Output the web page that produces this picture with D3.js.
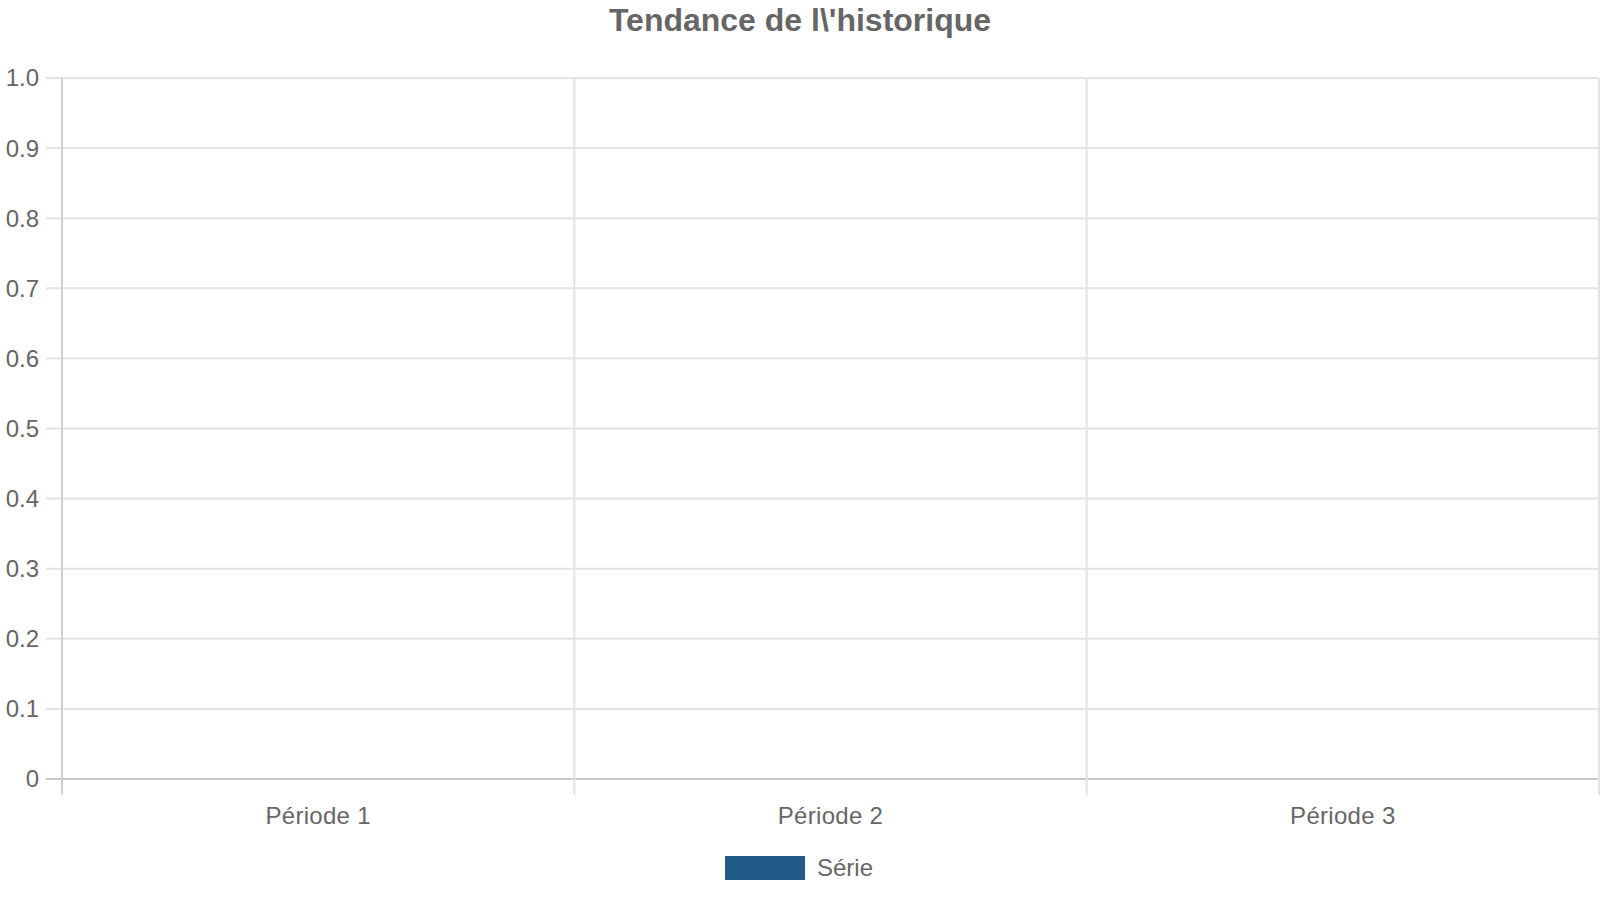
<!DOCTYPE html>
<html>
<head>
<meta charset="utf-8">
<script src="https://cdn.jsdelivr.net/npm/d3@7"></script>
<style>
  html, body { margin: 0; padding: 0; background: #fff; }
  svg { display: block; }
  text { font-family: "Liberation Sans", Arial, Helvetica, sans-serif; fill: #666; }
</style>
</head>
<body>
<svg id="chart" width="1600" height="900"></svg>
<script>
const titleText = "Tendance de l\\'historique";
const categories = ["Période 1", "Période 2", "Période 3"];
const seriesName = "Série";
const seriesValues = [0, 0, 0];
const yTickValues = [0, 0.1, 0.2, 0.3, 0.4, 0.5, 0.6, 0.7, 0.8, 0.9, 1.0];
const yTickLabels = ["0", "0.1", "0.2", "0.3", "0.4", "0.5", "0.6", "0.7", "0.8", "0.9", "1.0"];
const seriesColor = "#1f5b86";

(function () {
const svg = d3.select("#chart");
const mLeft = 62, mRight = 1599, mTop = 78, mBottom = 779, tickLen = 16;

const x = d3.scaleBand().domain(categories).range([mLeft, mRight]);
const y = d3.scaleLinear().domain([0, 1]).range([mBottom, mTop]);

// title
svg.append("text")
  .attr("x", 800).attr("y", 31)
  .attr("text-anchor", "middle")
  .style("font-size", "32px").style("font-weight", "bold")
  .text(titleText);

// horizontal grid lines
svg.append("g").selectAll("line").data(yTickValues).join("line")
  .attr("x1", mLeft - tickLen).attr("x2", mRight)
  .attr("y1", d => y(d)).attr("y2", d => y(d))
  .attr("stroke", d => d === 0 ? "#c8c8c8" : "#e3e3e3")
  .attr("stroke-width", 2);

// vertical grid lines at band boundaries
const bounds = categories.map(c => x(c)).concat([x.range()[1]]);
svg.append("g").selectAll("line").data(bounds).join("line")
  .attr("x1", d => d).attr("x2", d => d)
  .attr("y1", mTop).attr("y2", mBottom + tickLen)
  .attr("stroke", (d, i) => i === 0 ? "#cfcfcf" : "#e3e3e3")
  .attr("stroke-width", 2);

// y tick labels
svg.append("g").selectAll("text").data(yTickValues).join("text")
  .attr("x", mLeft - tickLen - 7)
  .attr("y", d => y(d))
  .attr("dy", "0.35em")
  .attr("text-anchor", "end")
  .style("font-size", "24px")
  .text((d, i) => yTickLabels[i]);

// x tick labels
svg.append("g").selectAll("text").data(categories).join("text")
  .attr("x", d => x(d) + x.bandwidth() / 2)
  .attr("y", 824)
  .attr("text-anchor", "middle")
  .style("font-size", "24px")
  .style("letter-spacing", "0.3px")
  .text(d => d);

// bars (zero values)
const xInner = d3.scaleBand().domain([seriesName]).range([0, x.bandwidth()]).paddingInner(0.1).paddingOuter(0.1);
svg.append("g").selectAll("rect").data(seriesValues).join("rect")
  .attr("x", (d, i) => x(categories[i]) + xInner(seriesName))
  .attr("width", xInner.bandwidth())
  .attr("y", d => y(d))
  .attr("height", d => y(0) - y(d))
  .attr("fill", seriesColor);

// legend
const legend = svg.append("g").attr("transform", "translate(725,856)");
legend.append("rect").attr("width", 80).attr("height", 24).attr("fill", seriesColor);
legend.append("text").attr("x", 92).attr("y", 12).attr("dy", "0.35em")
  .style("font-size", "24px").text(seriesName);
})();
</script>
</body>
</html>
